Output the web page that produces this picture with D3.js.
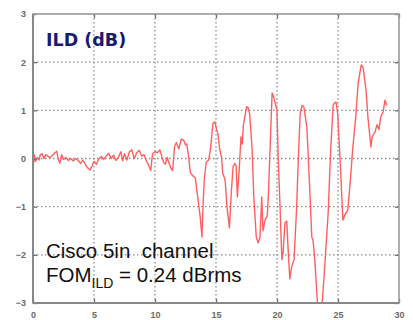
<!DOCTYPE html>
<html>
<head>
<meta charset="utf-8">
<script src="https://cdn.jsdelivr.net/npm/d3@7"></script>
<style>
  html, body { margin: 0; padding: 0; background: #fff; }
  svg { display: block; }
  text.note { white-space: pre; }
</style>
</head>
<body>
<svg id="chart" width="413" height="320"></svg>
<script>
// Frequency (GHz) and insertion-loss deviation (dB) of the channel
const freqGHz = [
  0.0, 0.1, 0.2, 0.35, 0.5, 0.6, 0.75, 0.9, 1.05, 1.2, 1.4, 1.6, 1.8, 1.95, 2.05, 2.2, 2.35, 2.5, 2.7, 2.9,
  3.1, 3.3, 3.5, 3.7, 3.9, 4.1, 4.3, 4.5, 4.67, 4.85, 5.0, 5.2, 5.4, 5.6, 5.8, 6.0, 6.2, 6.4, 6.6, 6.8,
  7.0, 7.2, 7.35, 7.5, 7.7, 7.9, 8.1, 8.3, 8.5, 8.7, 8.9, 9.1, 9.3, 9.5, 9.65, 9.8, 10.0, 10.2, 10.4, 10.55,
  10.7, 10.85, 11.0, 11.15, 11.3, 11.45, 11.6, 11.75, 11.95, 12.15, 12.35, 12.5, 12.6, 12.75, 12.9, 13.1, 13.3, 13.5, 13.7, 13.85,
  13.95, 14.05, 14.2, 14.4, 14.55, 14.75, 14.9, 15.05, 15.15, 15.3, 15.45, 15.55, 15.75, 15.9, 16.1, 16.25, 16.4, 16.55, 16.65, 16.75,
  16.9, 17.05, 17.15, 17.25, 17.5, 17.6, 17.75, 17.95, 18.1, 18.3, 18.45, 18.6, 18.75, 18.85, 19.05, 19.2, 19.3, 19.45, 19.6, 19.7,
  20.0, 20.1, 20.25, 20.4, 20.5, 20.65, 20.8, 20.9, 21.05, 21.2, 21.4, 21.6, 21.75, 21.9, 22.05, 22.2, 22.45, 22.7, 22.85, 22.95,
  23.1, 23.3, 23.45, 23.65, 23.75, 23.9, 24.05, 24.2, 24.4, 24.6, 24.7, 24.84, 24.97, 25.16, 25.3, 25.4, 25.57, 25.8, 26.0, 26.2,
  26.45, 26.65, 26.9, 27.05, 27.3, 27.45, 27.7, 27.8, 28.03, 28.2, 28.36, 28.5, 28.7, 28.85, 29.0
];
const ildDb = [
  -0.24, 0.08, -0.06, 0.02, -0.03, 0.08, 0.1, 0.0, 0.08, 0.05, 0.02, 0.07, 0.12, 0.15, 0.0, -0.1, 0.08, -0.02, 0.02, -0.04,
  0.0, -0.05, 0.0, -0.04, -0.1, -0.03, -0.13, -0.2, -0.24, -0.15, -0.06, -0.12, 0.0, 0.04, -0.02, 0.05, 0.11, 0.0, 0.07, -0.04,
  0.03, 0.14, -0.05, 0.1, -0.03, 0.14, 0.18, 0.0, 0.12, 0.17, 0.05, 0.08, -0.05, -0.15, -0.25, 0.1, 0.14, 0.12, 0.18, 0.05,
  -0.08, -0.12, 0.02, -0.1, -0.2, -0.25, 0.25, 0.33, 0.2, 0.4, 0.38, 0.28, 0.3, 0.05, -0.3, -0.36, -0.4, -0.8, -1.2, -1.63,
  -0.9, -0.4, -0.08, -0.03, 0.2, 0.73, 0.76, 0.6, 0.52, 0.2, 0.03, -0.3, -0.45, -1.0, -1.44, -0.72, -0.17, -0.1, -0.15, -0.8,
  -0.24, 0.45, 0.3, 0.7, 1.07, 1.07, 0.94, 0.24, -0.8, -1.63, -1.75, -1.65, -0.8, -1.5, -1.25, -1.2, -0.72, 0.32, 1.36, 1.3,
  1.0, 0.0, -1.0, -2.1, -1.95, -1.34, -1.3, -1.83, -2.5, -2.25, -2.1, -1.07, 0.0, 0.94, 1.1, 1.07, 0.65, -0.72, -1.63, -1.69,
  -2.1, -2.95, -3.15, -3.15, -2.85, -2.3, -1.7, -1.1, 0.18, 1.1, 1.15, 1.17, 0.94, 0.03, -0.72, -1.28, -1.17, -1.07, -0.5, 0.18,
  0.86, 1.56, 1.94, 1.9, 1.42, 0.86, 0.24, 0.45, 0.55, 0.7, 0.6, 0.86, 0.97, 1.21, 1.1
];
const xTicks = [0, 5, 10, 15, 20, 25, 30];
const yTicks = [-3, -2, -1, 0, 1, 2, 3];
const titleText = "ILD (dB)";
const noteLine1 = "Cisco 5in  channel";
const fomValue = "= 0.24 dBrms";

const W = 413, H = 320;
const margin = { top: 14, right: 14, bottom: 17, left: 33 };
const iw = W - margin.left - margin.right;
const ih = H - margin.top - margin.bottom;

const svg = d3.select("#chart");
const g = svg.append("g").attr("transform", `translate(${margin.left},${margin.top})`);

const x = d3.scaleLinear().domain([0, 30]).range([0, iw]);
const y = d3.scaleLinear().domain([-3, 3]).range([ih, 0]);

// dotted grid
const gridColor = "#8c8c8c";
g.append("g").selectAll("line.vg")
  .data(xTicks.filter(t => t > 0 && t < 30))
  .join("line")
  .attr("x1", d => x(d)).attr("x2", d => x(d))
  .attr("y1", 0).attr("y2", ih)
  .attr("stroke", gridColor).attr("stroke-width", 1.3)
  .attr("stroke-dasharray", "1.5,2.5");
g.append("g").selectAll("line.hg")
  .data(yTicks.filter(t => t > -3 && t < 3))
  .join("line")
  .attr("x1", 0).attr("x2", iw)
  .attr("y1", d => y(d)).attr("y2", d => y(d))
  .attr("stroke", gridColor).attr("stroke-width", 1.3)
  .attr("stroke-dasharray", "1.5,2.5");

// trace
svg.append("defs").append("clipPath").attr("id", "plotclip")
  .append("rect").attr("width", iw).attr("height", ih);
const pts = freqGHz.map((f, i) => [f, ildDb[i]]);
const line = d3.line().x(d => x(d[0])).y(d => y(d[1]));
g.append("path")
  .datum(pts)
  .attr("clip-path", "url(#plotclip)")
  .attr("fill", "none")
  .attr("stroke", "#ff5f5f")
  .attr("stroke-width", 1.4)
  .attr("stroke-linejoin", "round")
  .attr("d", line);

// axes with inward ticks on all four sides
const styleAxis = sel => {
  sel.select(".domain").remove();
  sel.selectAll(".tick line").attr("stroke", "#6e6e6e").attr("stroke-width", 1.3);
  sel.selectAll(".tick text")
    .attr("fill", "#6a6a6a")
    .style("font-family", "'Liberation Sans', Arial, sans-serif")
    .style("font-size", "9px")
    .style("font-weight", "bold");
};
g.append("g").attr("transform", `translate(0,${ih})`)
  .call(d3.axisBottom(x).tickValues(xTicks).tickSize(-4).tickPadding(9).tickFormat(d3.format("d")))
  .call(styleAxis);
g.append("g")
  .call(d3.axisLeft(y).tickValues(yTicks).tickSize(-4).tickPadding(7).tickFormat(d3.format("d")))
  .call(styleAxis);
g.append("g")
  .call(d3.axisTop(x).tickValues(xTicks).tickSize(-4).tickFormat(""))
  .call(styleAxis);
g.append("g").attr("transform", `translate(${iw},0)`)
  .call(d3.axisRight(y).tickValues(yTicks).tickSize(-4).tickFormat(""))
  .call(styleAxis);

// frame
g.append("rect")
  .attr("width", iw).attr("height", ih)
  .attr("fill", "none").attr("stroke", "#9a9a9a").attr("stroke-width", 1.6);
g.append("line").attr("x1", 0).attr("x2", 0).attr("y1", 0).attr("y2", ih)
  .attr("stroke", "#888").attr("stroke-width", 2);
g.append("line").attr("x1", 0).attr("x2", iw).attr("y1", ih).attr("y2", ih)
  .attr("stroke", "#888").attr("stroke-width", 2);

// title inside the plot
svg.append("text")
  .attr("x", 46).attr("y", 46)
  .attr("fill", "#1a1a70")
  .style("font-family", "'DejaVu Sans', Verdana, sans-serif")
  .style("font-size", "17.5px")
  .style("font-weight", "bold")
  .text(titleText);

// annotation
const note = svg.append("g")
  .style("font-family", "'Liberation Sans', Arial, sans-serif")
  .attr("fill", "#111");
note.append("text").attr("class", "note").attr("xml:space", "preserve")
  .attr("x", 46).attr("y", 258).style("font-size", "20.5px").text(noteLine1);
const fom = note.append("text").attr("class", "note").attr("x", 46).attr("y", 282).style("font-size", "20.5px");
fom.append("tspan").text("FOM");
fom.append("tspan").attr("dy", 6).style("font-size", "14px").text("ILD");
fom.append("tspan").attr("dy", -6).text(" " + fomValue);
</script>
</body>
</html>
